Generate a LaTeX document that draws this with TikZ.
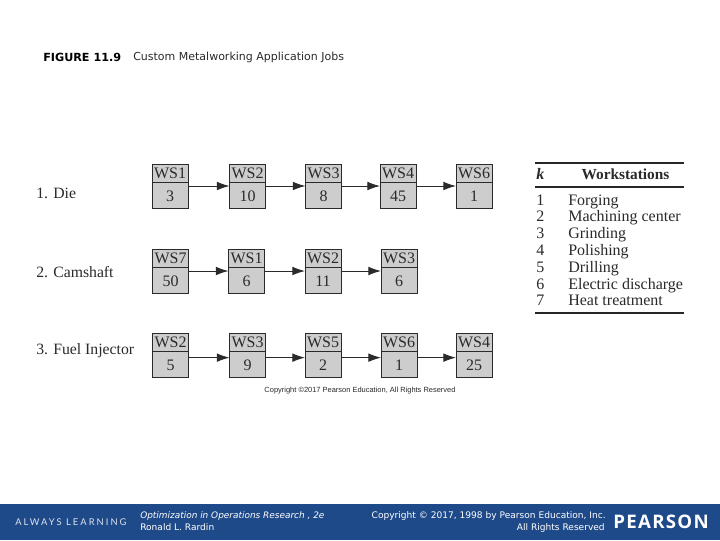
\documentclass[tikz,border=0pt]{standalone}
\usepackage{fontspec}
\setmainfont{Liberation Serif}
\newfontfamily\vfont{DejaVu Sans}
\newfontfamily\pfont{Open Sans}
\newfontfamily\lfont{Lato}
\newfontfamily\afont{Liberation Sans}
\definecolor{band}{HTML}{1F4A8A}
\definecolor{cellgray}{HTML}{CDCDCD}
\definecolor{ink}{HTML}{2A2A2A}
\newcommand{\wscell}[6]{% name, x, y, width, ws, value
  \node[cellbox,minimum width=#4*0.75pt] (#1) at (#2,#3) {};
  \draw[celldiv] ([yshift=3pt]#1.west) -- ([yshift=3pt]#1.east);
  \node[celltxt] (#1t) at (#2,#3-13) {#5};
  \node[celltxt] (#1v) at (#2,#3+10) {#6};
}
\tikzset{
  x=0.75pt,y=-0.75pt,
  cellbox/.style={draw=ink,line width=0.7pt,fill=cellgray,minimum height=33pt,inner sep=0pt,outer sep=0pt},
  celldiv/.style={draw=ink,line width=0.6pt},
  celltxt/.style={inner sep=0pt,text=ink,font=\fontsize{12}{13}\selectfont},
  linkline/.style={draw=ink,line width=0.7pt,-{Latex[length=9.5pt,width=6.5pt]}},
  joblabel/.style={anchor=west,inner sep=0pt,text=ink,font=\fontsize{11.8}{13}\selectfont},
  tabrule/.style={draw=black!85,line width=#1},
  tabtxt/.style={anchor=base west,inner sep=0pt,text=ink,font=\fontsize{12}{13}\selectfont},
  foot/.style={inner sep=0pt,text=white,font=\vfont\fontsize{6.8}{8}\selectfont},
}
\usetikzlibrary{arrows.meta}
\begin{document}
\begin{tikzpicture}
\useasboundingbox (0,0) rectangle (720,540);
\fill[white] (0,0) rectangle (720,540);
% heading
\node[anchor=west,inner sep=0pt,font=\vfont\bfseries\fontsize{8.4}{10}\selectfont] (figno) at (43,57) {FIGURE 11.9};
\node[anchor=west,inner sep=0pt,text=ink,font=\vfont\fontsize{8.25}{10}\selectfont] (figtitle) at (133,57) {Custom Metalworking Application Jobs};
% row labels
\node[joblabel] (job1) at (36,193) {1. Die};
\node[joblabel] (job2) at (36,272) {2. Camshaft};
\node[joblabel] (job3) at (36,351) {3. Fuel Injector};
% job 1
\wscell{a1}{170}{186}{36}{WS1}{3}
\wscell{a2}{247.5}{186}{36}{WS2}{10}
\wscell{a3}{323.5}{186}{36}{WS3}{8}
\wscell{a4}{398}{186}{36}{WS4}{45}
\wscell{a5}{474}{186}{36}{WS6}{1}
\draw[linkline] (a1) -- (a2);
\draw[linkline] (a2) -- (a3);
\draw[linkline] (a3) -- (a4);
\draw[linkline] (a4) -- (a5);
% job 2
\wscell{b1}{170.5}{271}{36}{WS7}{50}
\wscell{b2}{246.5}{271}{36}{WS1}{6}
\wscell{b3}{323}{271}{36}{WS2}{11}
\wscell{b4}{399}{271}{36}{WS3}{6}
\draw[linkline] (b1) -- (b2);
\draw[linkline] (b2) -- (b3);
\draw[linkline] (b3) -- (b4);
% job 3
\wscell{c1}{170.5}{355.5}{36}{WS2}{5}
\wscell{c2}{247.5}{355.5}{36}{WS3}{9}
\wscell{c3}{323}{355.5}{36}{WS5}{2}
\wscell{c4}{399}{355.5}{36}{WS6}{1}
\wscell{c5}{474}{355.5}{36}{WS4}{25}
\draw[linkline] ([yshift=-1.6pt]c1.east) -- ([yshift=-1.6pt]c2.west);
\draw[linkline] ([yshift=-1.6pt]c2.east) -- ([yshift=-1.6pt]c3.west);
\draw[linkline] ([yshift=-1.6pt]c3.east) -- ([yshift=-1.6pt]c4.west);
\draw[linkline] ([yshift=-1.6pt]c4.east) -- ([yshift=-1.6pt]c5.west);
% table
\coordinate (r1a) at (535,163); \coordinate (r1b) at (684,163);
\coordinate (r2a) at (535,187); \coordinate (r2b) at (684,187);
\coordinate (r3a) at (535,313); \coordinate (r3b) at (684,313);
\draw[tabrule=1.1pt] (r1a) -- (r1b);
\draw[tabrule=0.9pt] (r2a) -- (r2b);
\draw[tabrule=1.1pt] (r3a) -- (r3b);
\node[tabtxt,font=\bfseries\itshape\fontsize{12}{13}\selectfont] (hk) at (536,179) {k};
\node[anchor=base,inner sep=0pt,text=ink,font=\bfseries\fontsize{11.5}{13}\selectfont] (hw) at (625.5,179) {Workstations};
\foreach \n/\yy/\t in {1/205/Forging,2/221.5/Machining center,3/238.5/Grinding,4/255/Polishing,5/272/Drilling,6/289/Electric discharge,7/305.5/Heat treatment}{
  \node[tabtxt] (k\n) at (536,\yy) {\n};
  \node[tabtxt] (w\n) at (568,\yy) {\t};
}
% copyright under the figure
\node[inner sep=0pt,text=ink,font=\afont\fontsize{5.6}{6}\selectfont] (cap) at (360,391) {Copyright \textcopyright{}2017 Pearson Education, All Rights Reserved};
% footer
\fill[band] (0,504) rectangle (720,540);
\node[foot,anchor=west,font=\lfont\fontsize{7}{8}\selectfont,text=white!85!band] (always) at (15,522) {\addfontfeature{LetterSpace=22}ALWAYS LEARNING};
\node[foot,anchor=west,font=\vfont\itshape\fontsize{6.7}{8}\selectfont] (book) at (140,516) {Optimization in Operations Research , 2e};
\node[foot,anchor=west] (author) at (140,527) {Ronald L. Rardin};
\node[foot,anchor=east] (copy1) at (606,516) {Copyright \textcopyright{} 2017, 1998 by Pearson Education, Inc.};
\node[foot,anchor=east] (copy2) at (605,527.5) {All Rights Reserved};
\node[foot,anchor=west,font=\pfont\fontsize{14}{16}\selectfont] (pearson) at (613,522) {\addfontfeature{LetterSpace=7}\textbf{PEARSON}};
\end{tikzpicture}
\end{document}
